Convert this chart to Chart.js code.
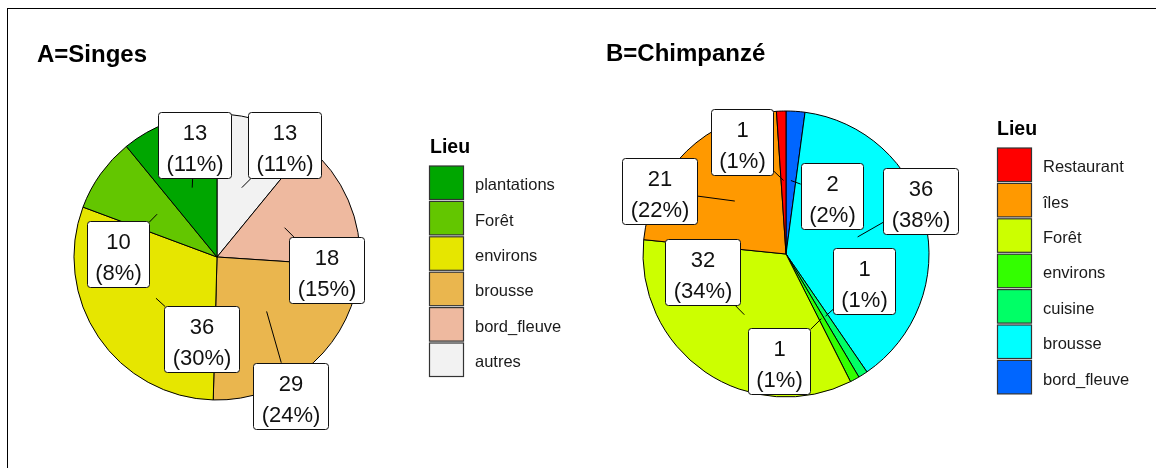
<!DOCTYPE html>
<html><head><meta charset="utf-8">
<script src="https://cdn.jsdelivr.net/npm/chart.js@4.4.1/dist/chart.umd.min.js"></script>
<style>
html,body{margin:0;padding:0;background:#fff;}
#wrap{position:relative;width:1156px;height:468px;overflow:hidden;background:#fff;}
#frame{position:absolute;left:7px;top:8px;right:-2px;bottom:-2px;border-left:1px solid #000;border-top:1px solid #000;}
canvas{position:absolute;left:0;top:0;}
</style></head><body>
<div id="wrap"><div id="frame"></div>
<canvas id="cA" width="1156" height="468"></canvas>
<canvas id="cB" width="1156" height="468"></canvas>
</div>
<script>
// ---------- data ----------
const titleA = 'A=Singes';
const categoriesA = ['plantations', 'Forêt', 'environs', 'brousse', 'bord_fleuve', 'autres'];
const valuesA = [13, 10, 36, 29, 18, 13];
const colorsA = ['#00A600', '#63C600', '#E6E600', '#EAB64E', '#EEB99F', '#F2F2F2'];

const titleB = 'B=Chimpanzé';
const categoriesB = ['Restaurant', 'îles', 'Forêt', 'environs', 'cuisine', 'brousse', 'bord_fleuve'];
const valuesB = [1, 21, 32, 1, 1, 36, 2];
const colorsB = ['#FF0000', '#FF9900', '#CCFF00', '#33FF00', '#00FF66', '#00FFFF', '#0066FF'];

const legendTitle = 'Lieu';

// label placement (repelled boxes): offset from slice anchor to box centre, px
const labelOffsetsA = [[2, -43], [-39, 40], [45, 41], [24, 84], [42, 42], [43, -43]];
const labelOffsetsB = [[-41, -39], [-75, -10], [-42, -43], [-42, 42], [39, -35], [63, -36], [41, 15]];

// ---------- styling / layout ----------
const FONT = '"Liberation Sans", Arial, Helvetica, sans-serif';

const layoutA = {
  center: [217, 257], radius: 143,
  titleX: 37, titleY: 62,
  legendX: 429.5, legendTitleX: 430, legendTitleY: 153, legendTop: 166, labelX: 475
};
const layoutB = {
  center: [786, 254], radius: 143,
  titleX: 606, titleY: 61,
  legendX: 997.5, legendTitleX: 997, legendTitleY: 135, legendTop: 148, labelX: 1043
};

const overlayPlugin = {
  id: 'overlay',
  afterDraw(chart, args, o) {
    const ctx = chart.ctx;
    const meta = chart.getDatasetMeta(0);
    const n = o.categories.length;
    const total = o.values.reduce((a, b) => a + b, 0);
    ctx.save();

    // title
    ctx.fillStyle = '#000';
    ctx.font = 'bold 24px ' + FONT;
    ctx.textBaseline = 'alphabetic';
    ctx.textAlign = 'left';
    ctx.fillText(o.title, o.layout.titleX, o.layout.titleY);

    // labels
    for (let i = 0; i < n; i++) {
      const arc = meta.data[n - 1 - i];
      const p = arc.getProps(['x', 'y', 'startAngle', 'endAngle', 'outerRadius'], true);
      const mid = (p.startAngle + p.endAngle) / 2;
      const ax = p.x + Math.cos(mid) * p.outerRadius * 0.515;
      const ay = p.y + Math.sin(mid) * p.outerRadius * 0.515;
      const [dx, dy] = o.offsets[i];
      const cx = ax + dx, cy = ay + dy;
      const l1 = String(o.values[i]);
      const l2 = '(' + Math.round(o.values[i] / total * 100) + '%)';
      ctx.font = '22px ' + FONT;
      const tw = Math.max(ctx.measureText(l1).width, ctx.measureText(l2).width);
      const w = tw + 16, h = 65.5;
      const hw = w / 2, hh = h / 2;
      const s = Math.min(dx !== 0 ? hw / Math.abs(dx) : Infinity, dy !== 0 ? hh / Math.abs(dy) : Infinity);
      if (s < 1) {
        ctx.beginPath();
        ctx.strokeStyle = '#000';
        ctx.lineWidth = 1;
        ctx.moveTo(ax, ay);
        ctx.lineTo(cx - dx * s, cy - dy * s);
        ctx.stroke();
      }
      const bx = Math.round(cx - hw) + 0.5, by = Math.round(cy - hh) + 0.5;
      ctx.beginPath();
      ctx.roundRect(bx, by, Math.round(w), Math.round(h), 3);
      ctx.fillStyle = '#fff';
      ctx.fill();
      ctx.strokeStyle = '#111';
      ctx.lineWidth = 1;
      ctx.stroke();
      ctx.fillStyle = '#111';
      ctx.textAlign = 'center';
      ctx.fillText(l1, bx + Math.round(w) / 2, by + 27);
      ctx.fillText(l2, bx + Math.round(w) / 2, by + 58.5);
    }

    // legend
    const L = o.layout;
    ctx.textAlign = 'left';
    ctx.fillStyle = '#000';
    ctx.font = 'bold 19.5px ' + FONT;
    ctx.fillText(legendTitle, L.legendTitleX, L.legendTitleY);
    const pitch = 35.4, bh = 33.5, bw = 34;
    for (let i = 0; i < n; i++) {
      const top = L.legendTop + i * pitch;
      ctx.fillStyle = o.colors[i];
      ctx.fillRect(L.legendX, top, bw, bh);
      ctx.strokeStyle = '#333';
      ctx.lineWidth = 1.2;
      ctx.strokeRect(L.legendX, top, bw, bh);
      ctx.fillStyle = '#1a1a1a';
      ctx.font = '16.5px ' + FONT;
      ctx.fillText(o.categories[i], L.labelX, top + bh / 2 + 7.5);
    }
    ctx.restore();
  }
};

function makeChart(id, title, cats, vals, cols, offsets, layout) {
  const size = 2 * layout.radius + 1;
  const left = layout.center[0] - size / 2;
  const top = layout.center[1] - size / 2;
  const right = 1156 - left - size;
  const bottom = 468 - top - size;
  return new Chart(document.getElementById(id), {
    type: 'pie',
    data: {
      labels: cats.slice().reverse(),
      datasets: [{
        data: vals.slice().reverse(),
        backgroundColor: cols.slice().reverse(),
        borderColor: '#000',
        borderWidth: 1,
        radius: layout.radius
      }]
    },
    options: {
      responsive: false,
      animation: false,
      events: [],
      layout: { padding: { left, right, top, bottom } },
      plugins: {
        legend: { display: false },
        tooltip: { enabled: false },
        title: { display: false },
        overlay: { title, categories: cats, values: vals, colors: cols, offsets, layout }
      }
    },
    plugins: [overlayPlugin]
  });
}

makeChart('cA', titleA, categoriesA, valuesA, colorsA, labelOffsetsA, layoutA);
makeChart('cB', titleB, categoriesB, valuesB, colorsB, labelOffsetsB, layoutB);
</script>
</body></html>
